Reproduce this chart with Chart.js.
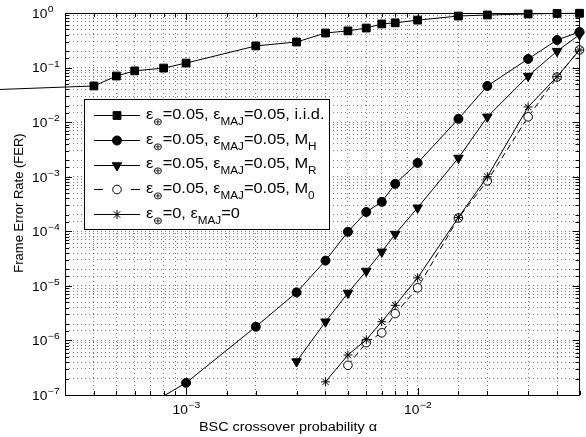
<!DOCTYPE html>
<html>
<head>
<meta charset="utf-8">
<script src="https://cdn.jsdelivr.net/npm/chart.js@4.4.1/dist/chart.umd.min.js"></script>
<style>
    body { margin: 0; background: #fff; }
</style>
</head>
<body>
<canvas id="myChart" width="586" height="437"></canvas>
<script>
/* Chart data */

// i.i.d. curve (first point lies left of the axis, line runs off the plot)
const alphaIid = [1e-4, 4e-4, 5e-4, 6e-4, 8e-4, 1e-3, 2e-3, 3e-3, 4e-3, 5e-3, 6e-3, 7e-3, 8e-3, 1e-2, 1.5e-2, 2e-2, 3e-2, 4e-2, 5e-2];
const ferIid = [0.037, 0.046, 0.070, 0.087, 0.098, 0.121, 0.249, 0.294, 0.43, 0.47, 0.53, 0.63, 0.66, 0.74, 0.88, 0.92, 0.96, 0.98, 0.99];

// M_H curve (first point lies below the axis)
const alphaMH = [5e-4, 1e-3, 2e-3, 3e-3, 4e-3, 5e-3, 6e-3, 7e-3, 8e-3, 1e-2, 1.5e-2, 2e-2, 3e-2, 4e-2, 5e-2];
const ferMH = [3e-8, 1.67e-7, 1.78e-6, 7.6e-6, 2.9e-5, 9.8e-5, 2.26e-4, 3.46e-4, 7.4e-4, 1.79e-3, 0.0115, 0.046, 0.144, 0.32, 0.45];

// M_R curve
const alphaMR = [3e-3, 4e-3, 5e-3, 6e-3, 7e-3, 8e-3, 1e-2, 1.5e-2, 2e-2, 3e-2, 4e-2, 5e-2];
const ferMR = [4.1e-7, 2.2e-6, 7.4e-6, 1.87e-5, 4.2e-5, 8.9e-5, 2.7e-4, 2.2e-3, 0.0125, 0.070, 0.20, 0.40];

// M_0 curve (dashed, open circles)
const alphaM0 = [5e-3, 6e-3, 7e-3, 8e-3, 1e-2, 1.5e-2, 2e-2, 3e-2, 4e-2, 5e-2];
const ferM0 = [3.5e-7, 9.1e-7, 1.38e-6, 3.1e-6, 9.2e-6, 1.75e-4, 8.4e-4, 0.0125, 0.067, 0.21];

// error free curve
const alphaZero = [4e-3, 5e-3, 6e-3, 7e-3, 8e-3, 1e-2, 1.5e-2, 2e-2, 3e-2, 4e-2, 5e-2];
const ferZero = [1.74e-7, 5.4e-7, 1.03e-6, 2.2e-6, 4.4e-6, 1.4e-5, 1.8e-4, 1.0e-3, 0.019, 0.068, 0.21];

// axis ranges and labelled decades
const xMin = 3e-4;
const xMax = 5e-2;
const yMin = 1e-7;
const yMax = 1;
const xTickExps = [-3, -2];
const yTickExps = [0, -1, -2, -3, -4, -5, -6, -7];

const xTitle = 'BSC crossover probability α';
const yTitle = 'Frame Error Rate (FER)';

// legend texts, [text, isSubscript]
const legendLabels = [
    [['ε', 0], ['⊕', 1], ['=0.05, ε', 0], ['MAJ', 1], ['=0.05, i.i.d.', 0]],
    [['ε', 0], ['⊕', 1], ['=0.05, ε', 0], ['MAJ', 1], ['=0.05, M', 0], ['H', 1]],
    [['ε', 0], ['⊕', 1], ['=0.05, ε', 0], ['MAJ', 1], ['=0.05, M', 0], ['R', 1]],
    [['ε', 0], ['⊕', 1], ['=0.05, ε', 0], ['MAJ', 1], ['=0.05, M', 0], ['0', 1]],
    [['ε', 0], ['⊕', 1], ['=0, ε', 0], ['MAJ', 1], ['=0', 0]]
];

const FONT = '"Liberation Sans", Arial, Helvetica, sans-serif';

// Draw text, left aligned, vertically centred, optionally stretched wide
function drawText(ctx, text, x, y, size, sx = 1.15, angle = 0) {
    ctx.save();
    ctx.font = `${size}px ${FONT}`;
    ctx.textAlign = 'left';
    ctx.textBaseline = 'middle';
    ctx.fillStyle = '#000';
    ctx.translate(x, y);
    ctx.rotate(angle);
    ctx.scale(sx, 1);
    ctx.fillText(text, 0, 0);
    ctx.restore();
}

function textWidth(ctx, text, size, sx = 1.15) {
    ctx.font = `${size}px ${FONT}`;
    return ctx.measureText(text).width * sx;
}

// "10" with a raised exponent
function drawPower(ctx, exp, x, y, align) {
    const expStr = exp < 0 ? `−${-exp}` : `${exp}`;
    const wBase = textWidth(ctx, '10', 12);
    const wExp = textWidth(ctx, expStr, 9);
    let left = x;
    if (align === 'center') {
        left = x - (wBase + wExp) / 2;
    }
    drawText(ctx, '10', left, y, 12);
    drawText(ctx, expStr, left + wBase + 0.5, y - 5, 9);
}

function isDecade(v) {
    const l = Math.log10(v);
    return Math.abs(l - Math.round(l)) < 1e-6;
}

function drawMarker(ctx, style, x, y) {
    ctx.save();
    ctx.strokeStyle = '#000';
    ctx.lineWidth = 1;
    ctx.setLineDash([]);
    ctx.fillStyle = style.fill;
    Chart.helpers.drawPoint(ctx, {
        pointStyle: style.pointStyle,
        radius: style.radius,
        rotation: style.rotation || 0,
        borderWidth: 1
    }, x, y);
    ctx.restore();
}

const markerStyles = [
    {pointStyle: 'rect', radius: 5.5, fill: '#000'},
    {pointStyle: 'circle', radius: 4.5, fill: '#000'},
    {pointStyle: 'triangle', radius: 5.5, rotation: 180, fill: '#000'},
    {pointStyle: 'circle', radius: 4.3, fill: '#fff'},
    {pointStyle: 'star', radius: 4.5, fill: '#000'}
];
const lineDashes = [[], [], [], [6, 4], []];

// Box, inward ticks, tick labels, titles and legend
const decorPlugin = {
    id: 'decor',
    afterDraw(chart) {
        const ctx = chart.ctx;
        const a = chart.chartArea;
        const xs = chart.scales.x;
        const ys = chart.scales.y;

        ctx.save();
        ctx.strokeStyle = '#000';
        ctx.lineWidth = 1;
        ctx.beginPath();
        xs.ticks.forEach((t) => {
            const px = Math.round(xs.getPixelForValue(t.value)) + 0.5;
            const len = isDecade(t.value) ? 7 : 4;
            ctx.moveTo(px, a.bottom);
            ctx.lineTo(px, a.bottom - len);
            ctx.moveTo(px, a.top);
            ctx.lineTo(px, a.top + len);
        });
        ys.ticks.forEach((t) => {
            const py = Math.round(ys.getPixelForValue(t.value)) + 0.5;
            const len = isDecade(t.value) ? 7 : 4;
            ctx.moveTo(a.left, py);
            ctx.lineTo(a.left + len, py);
            ctx.moveTo(a.right, py);
            ctx.lineTo(a.right - len, py);
        });
        ctx.stroke();
        ctx.strokeRect(Math.round(a.left) + 0.5, Math.round(a.top) + 0.5, Math.round(a.right - a.left) - 1, Math.round(a.bottom - a.top));
        ctx.restore();

        xTickExps.forEach((e) => {
            drawPower(ctx, e, xs.getPixelForValue(Math.pow(10, e)), 411, 'center');
        });
        yTickExps.forEach((e) => {
            drawPower(ctx, e, 32, ys.getPixelForValue(Math.pow(10, e)) + 1.5, 'left');
        });

        const wx = textWidth(ctx, xTitle, 12, 1.2);
        drawText(ctx, xTitle, 288 - wx / 2, 428, 12, 1.2);
        const wy = textWidth(ctx, yTitle, 13, 1);
        drawText(ctx, yTitle, 19, 203 + wy / 2, 13, 1, -Math.PI / 2);

        // legend
        ctx.save();
        ctx.fillStyle = '#fff';
        ctx.strokeStyle = '#000';
        ctx.lineWidth = 1;
        ctx.fillRect(84.5, 99.5, 245, 130);
        ctx.strokeRect(84.5, 99.5, 245, 130);
        ctx.restore();

        legendLabels.forEach((parts, i) => {
            const ry = 115 + i * 24.8;
            ctx.save();
            ctx.strokeStyle = '#000';
            ctx.lineWidth = 1;
            ctx.setLineDash(i === 3 ? [9, 28] : []);
            ctx.beginPath();
            ctx.moveTo(94, Math.round(ry) + 0.5);
            ctx.lineTo(140, Math.round(ry) + 0.5);
            ctx.stroke();
            ctx.restore();
            drawMarker(ctx, markerStyles[i], 117, Math.round(ry) + 0.5);

            let tx = 146;
            parts.forEach(([txt, sub]) => {
                const size = sub ? 10 : 14;
                drawText(ctx, txt, tx, sub ? ry + 7 : ry, size, 1.17);
                tx += textWidth(ctx, txt, size, 1.17);
            });
        });
    }
};

const makeSet = (label, alphas, fers, i, clip) => ({
    label,
    data: alphas.map((v, k) => ({x: v, y: fers[k]})),
    borderColor: '#000',
    borderWidth: 1,
    borderDash: lineDashes[i],
    pointStyle: markerStyles[i].pointStyle,
    pointRadius: markerStyles[i].radius,
    pointRotation: markerStyles[i].rotation || 0,
    pointBackgroundColor: markerStyles[i].fill,
    pointBorderColor: '#000',
    pointBorderWidth: 1,
    tension: 0,
    fill: false,
    clip,
    order: 5 - i
});

function drawChart() {
    const ctx = document.getElementById('myChart').getContext('2d');
    const inside = {left: 0, top: 10, right: 6, bottom: 0};
    const chart = new Chart(ctx, {
        type: 'line',
        data: {
            datasets: [
                makeSet('iid', alphaIid, ferIid, 0, {left: false, top: 10, right: 6, bottom: 0}),
                makeSet('MH', alphaMH, ferMH, 1, inside),
                makeSet('MR', alphaMR, ferMR, 2, inside),
                makeSet('M0', alphaM0, ferM0, 3, inside),
                makeSet('zero', alphaZero, ferZero, 4, inside)
            ]
        },
        options: {
            responsive: false,
            animation: false,
            devicePixelRatio: 1,
            layout: {
                padding: {left: 65, right: 1, top: 13, bottom: 42}
            },
            plugins: {
                legend: {display: false},
                tooltip: {enabled: false}
            },
            scales: {
                x: {
                    type: 'logarithmic',
                    min: xMin,
                    max: xMax,
                    ticks: {display: false, autoSkip: false},
                    grid: {color: 'rgba(0,0,0,0.5)', lineWidth: 1, drawTicks: false},
                    border: {display: false, dash: [1, 3]}
                },
                y: {
                    type: 'logarithmic',
                    min: yMin,
                    max: yMax,
                    ticks: {display: false, autoSkip: false},
                    grid: {color: 'rgba(0,0,0,0.5)', lineWidth: 1, drawTicks: false},
                    border: {display: false, dash: [1, 3]}
                }
            }
        },
        plugins: [decorPlugin]
    });
}

setTimeout(() => {
    drawChart();
}, 0);
</script>
</body>
</html>
